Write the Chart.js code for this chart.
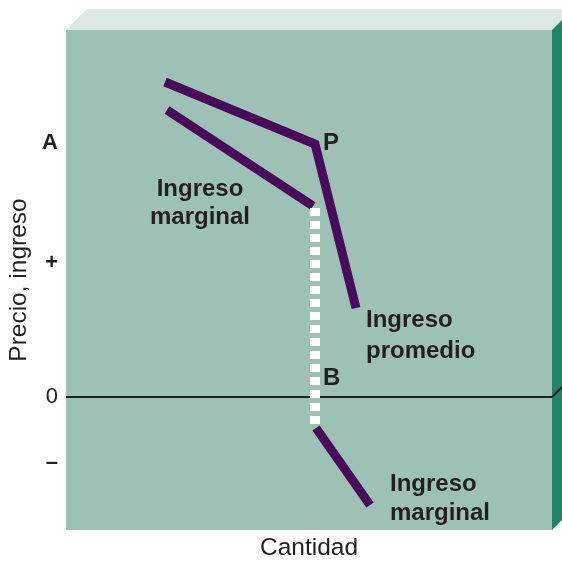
<!DOCTYPE html>
<html>
<head>
<meta charset="utf-8">
<script src="https://cdn.jsdelivr.net/npm/chart.js@4/dist/chart.umd.min.js"></script>
<style>
  html, body { margin: 0; padding: 0; background: #fff; }
  #wrap { width: 562px; height: 563px; }
</style>
</head>
<body>
<div id="wrap"><canvas id="chart" width="562" height="563"></canvas></div>
<script>
// Values in arbitrary units (the picture has no numeric scale).
const X_MIN = 0, X_MAX = 48.6;
const Y_MIN = -13.3, Y_MAX = 36.7;

const Y_TICK_VALUES = [-6.6, 0, 13.4, 25.4];
const Y_TICK_LABELS = ["\u2013", "0", "+", "A"];

// Ingreso promedio: bends at P
const AVG_X = [9.9, 24.9, 29.0];
const AVG_Y = [31.5, 25.3, 8.9];

// Ingreso marginal, positive part
const MR_UP_X = [10.1, 24.7];
const MR_UP_Y = [28.7, 19.1];

// Ingreso marginal, negative part
const MR_LOW_X = [25.0, 30.4];
const MR_LOW_Y = [-3.1, -10.8];

// White dashed jump between the two marginal pieces
const JUMP_X = [24.9, 24.9];
const JUMP_Y = [18.9, -2.8];

// Text labels placed on the plot: [text, x, y, align]
const NOTES = [
  ["P", 25.7, 25.4, "left"],
  ["Ingreso", 13.4, 20.8, "center"],
  ["marginal", 13.4, 18.0, "center"],
  ["Ingreso", 30.0, 7.7, "left"],
  ["promedio", 30.0, 4.6, "left"],
  ["B", 25.7, 1.9, "left"],
  ["Ingreso", 32.4, -8.7, "left"],
  ["marginal", 32.4, -11.6, "left"],
];

const PURPLE = "#4a0a5c";
const FACE = "#9dc2b5";
const TOP = "#dae9e3";
const SIDE = "#1f8468";
const INK = "#231f20";
const FONT = "'Liberation Sans', Arial, Helvetica, sans-serif";

const pts = (xs, ys) => xs.map((x, i) => ({ x, y: ys[i] }));

const box = {
  id: "box",
  beforeDraw(chart) {
    const { ctx, chartArea: a } = chart;
    ctx.save();
    ctx.fillStyle = FACE;
    ctx.fillRect(a.left, a.top, a.right - a.left, a.bottom - a.top);
    // top face
    ctx.fillStyle = TOP;
    ctx.beginPath();
    ctx.moveTo(a.left, a.top);
    ctx.lineTo(a.left + 21, a.top - 21);
    ctx.lineTo(chart.width, a.top - 21);
    ctx.lineTo(chart.width, a.top - 10);
    ctx.lineTo(a.right, a.top);
    ctx.closePath();
    ctx.fill();
    // side face
    ctx.fillStyle = SIDE;
    ctx.beginPath();
    ctx.moveTo(a.right, a.top);
    ctx.lineTo(chart.width, a.top - 10);
    ctx.lineTo(chart.width, a.bottom - 10);
    ctx.lineTo(a.right, a.bottom);
    ctx.closePath();
    ctx.fill();
    ctx.restore();
  },
  afterDatasetsDraw(chart) {
    const { ctx, chartArea: a, scales } = chart;
    const y0 = scales.y.getPixelForValue(0);
    ctx.save();
    // zero line continues on the side face
    ctx.strokeStyle = INK;
    ctx.lineWidth = 2;
    ctx.beginPath();
    ctx.moveTo(a.right, y0);
    ctx.lineTo(chart.width, y0 - 10);
    ctx.stroke();
    ctx.fillStyle = INK;
    ctx.font = "bold 24px " + FONT;
    ctx.textBaseline = "middle";
    for (const [t, x, y, align] of NOTES) {
      ctx.textAlign = align;
      ctx.fillText(t, scales.x.getPixelForValue(x), scales.y.getPixelForValue(y));
    }
    ctx.restore();
  },
};

const line = (data, color, width, dash) => ({
  data,
  showLine: true,
  borderColor: color,
  borderWidth: width,
  borderDash: dash || [],
  borderCapStyle: "butt",
  borderJoinStyle: "miter",
  pointRadius: 0,
  fill: false,
});

new Chart(document.getElementById("chart"), {
  type: "scatter",
  data: {
    datasets: [
      line(pts(JUMP_X, JUMP_Y), "#ffffff", 10, [8, 5]),
      line(pts(AVG_X, AVG_Y), PURPLE, 9),
      line(pts(MR_UP_X, MR_UP_Y), PURPLE, 9),
      line(pts(MR_LOW_X, MR_LOW_Y), PURPLE, 9),
    ],
  },
  options: {
    responsive: false,
    animation: false,
    layout: { padding: { top: 30, right: 10, left: 0, bottom: 0 } },
    plugins: { legend: { display: false }, tooltip: { enabled: false } },
    scales: {
      x: {
        type: "linear",
        min: X_MIN,
        max: X_MAX,
        ticks: { display: false },
        grid: { display: false },
        border: { display: false },
        title: {
          display: true,
          text: "Cantidad",
          color: INK,
          font: { family: FONT, size: 24.5 },
          padding: { top: 0, bottom: 0 },
        },
        afterFit: (s) => { s.height = 33; },
      },
      y: {
        type: "linear",
        min: Y_MIN,
        max: Y_MAX,
        afterBuildTicks: (s) => { s.ticks = Y_TICK_VALUES.map((v) => ({ value: v })); },
        ticks: {
          autoSkip: false,
          padding: 8,
          color: INK,
          font: (c) => ({ family: FONT, size: 22, weight: c.tick && c.tick.value === 0 ? "normal" : "bold" }),
          callback: (v) => Y_TICK_LABELS[Y_TICK_VALUES.indexOf(v)],
        },
        grid: {
          drawTicks: false,
          color: (c) => (c.tick && c.tick.value === 0 ? INK : "rgba(0,0,0,0)"),
          lineWidth: 2,
        },
        border: { display: false },
        title: {
          display: true,
          text: "Precio, ingreso",
          color: INK,
          font: { family: FONT, size: 24.5 },
          padding: { top: 5, bottom: 0 },
        },
        afterFit: (s) => { s.width = 66; },
      },
    },
  },
  plugins: [box],
});
</script>
</body>
</html>
